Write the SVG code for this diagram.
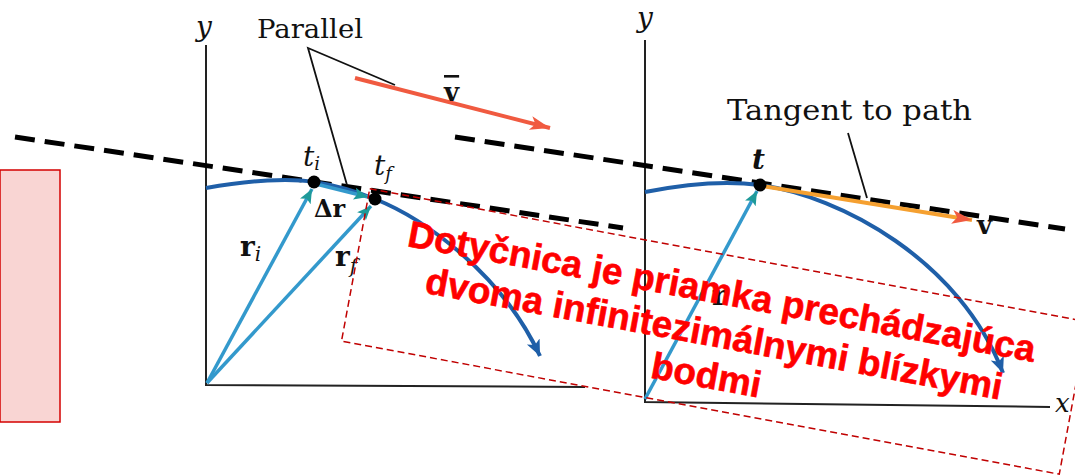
<svg xmlns="http://www.w3.org/2000/svg" width="1075" height="476" viewBox="0 0 1075 476">
<style>
.axis{stroke:#222;stroke-width:2;fill:none}
.tan{stroke:#000;stroke-width:5;stroke-dasharray:20 10;fill:none}
.path{stroke:#1f5fa8;stroke-width:4;fill:none}
.vec{stroke:#3399cc;stroke-width:3.5;fill:none}
.lead{stroke:#111;stroke-width:1.8;fill:none}
.lab{font-family:"DejaVu Serif","Liberation Serif",serif;fill:#111}
.it{font-family:"DejaVu Serif","Liberation Serif",serif;font-style:italic;fill:#111}
.bold{font-family:"DejaVu Serif","Liberation Serif",serif;font-weight:bold;fill:#111}
.note{font-family:"Liberation Sans",Arial,sans-serif;font-weight:bold;font-size:37px;fill:#ff0000;stroke:#ff0000;stroke-width:0.6;text-anchor:middle}
</style>
<defs>
<marker id="ahBlue" markerUnits="userSpaceOnUse" markerWidth="20" markerHeight="20" refX="16" refY="8" orient="auto"><path d="M0,1 L16,8 L0,15 L4,8 Z" fill="#1f5fa8"/></marker>
<marker id="ahTeal" markerUnits="userSpaceOnUse" markerWidth="18" markerHeight="16" refX="14" refY="7" orient="auto"><path d="M0,1 L14,7 L0,13 L3,7 Z" fill="#1e9a9a"/></marker>
<marker id="ahRed" markerUnits="userSpaceOnUse" markerWidth="22" markerHeight="18" refX="20" refY="8" orient="auto"><path d="M0,1 L20,8 L0,15 L5,8 Z" fill="#f05a40"/></marker>
</defs>
<rect width="1075" height="476" fill="#fff"/>

<g id="note-box">
<rect x="0" y="170" width="60" height="252" fill="#f9d5d3" stroke="#d40000" stroke-width="1.5"/>
</g>

<g id="left-diagram">
<path class="axis" d="M206,45 L206,385 L585,387"/>
<text class="it" x="196" y="36" font-size="28">y</text>
</g>

<g id="right-diagram">
<path class="axis" d="M645,40 L645,402 L1050,407"/>
<text class="it" x="637" y="27" font-size="28">y</text>
<text class="it" x="1055" y="412" font-size="26">x</text>
</g>

<g id="connectors">
<path class="tan" d="M15,137 L623,228"/>
<path class="tan" d="M455,137 L1065,229"/>
<path class="path" d="M206,188 C250,180 290,178 314,182 C340,186 360,193 375,199 C420,217 500,270 540,356" marker-end="url(#ahBlue)"/>
<path class="path" d="M645,192 C690,183 730,181 760,185 C840,196 960,260 1003,373" marker-end="url(#ahBlue)"/>
<path class="vec" d="M207,383 L312,189" marker-end="url(#ahTeal)"/>
<path class="vec" d="M207,383 L371,206" marker-end="url(#ahTeal)"/>
<path class="vec" d="M316,184 L368,197" marker-end="url(#ahTeal)"/>
<path class="vec" d="M645,399 L757,191" marker-end="url(#ahTeal)"/>
<path d="M355,78 L550,128" stroke="#f05a40" stroke-width="4" fill="none" marker-end="url(#ahRed)"/>
<path d="M762,186 L972,220" stroke="#f5a030" stroke-width="4" fill="none" marker-end="url(#ahRed)"/>
<path class="lead" d="M395,85 L308,48 L347,185"/>
<path class="lead" d="M848,133 L867,198"/>
</g>

<g id="points">
<circle cx="314" cy="182" r="6.5" fill="#000"/>
<circle cx="375" cy="199" r="6.5" fill="#000"/>
<circle cx="760" cy="185" r="6.5" fill="#000"/>
</g>

<g id="labels">
<text class="lab" x="257" y="38" font-size="26" textLength="106" lengthAdjust="spacingAndGlyphs">Parallel</text>
<text class="lab" x="727" y="120" font-size="27" textLength="245" lengthAdjust="spacingAndGlyphs">Tangent to path</text>
<text class="bold" x="444" y="101" font-size="26" text-decoration="overline">v</text>
<text class="bold" x="977" y="234" font-size="26">v</text>
<text class="it" x="303" y="166" font-size="28">t<tspan font-size="18" dy="4">i</tspan></text>
<text class="it" x="374" y="175" font-size="28">t<tspan font-size="18" dy="5">f</tspan></text>
<text class="it" x="752" y="169" font-size="28" font-weight="bold">t</text>
<text class="bold" x="240" y="256" font-size="28">r<tspan class="it" font-weight="normal" font-size="20" dy="5">i</tspan></text>
<text class="bold" x="335" y="266" font-size="28">r<tspan class="it" font-weight="normal" font-size="20" dy="7">f</tspan></text>
<text class="bold" x="314" y="217" font-size="24">Δr</text>
<text class="bold" x="712" y="305" font-size="28">r</text>
</g>

<g id="note" transform="translate(714.5,331.5) rotate(10.5)">
<rect x="-365" y="-77.5" width="730" height="155" fill="none" stroke="#c00000" stroke-width="1.5" stroke-dasharray="7 4"/>
<text class="note" x="0" y="-28">Dotyčnica je priamka prechádzajúca</text>
<text class="note" x="0" y="15">dvoma infinitezimálnymi blízkymi</text>
<text class="note" x="0" y="57">bodmi</text>
</g>
</svg>
